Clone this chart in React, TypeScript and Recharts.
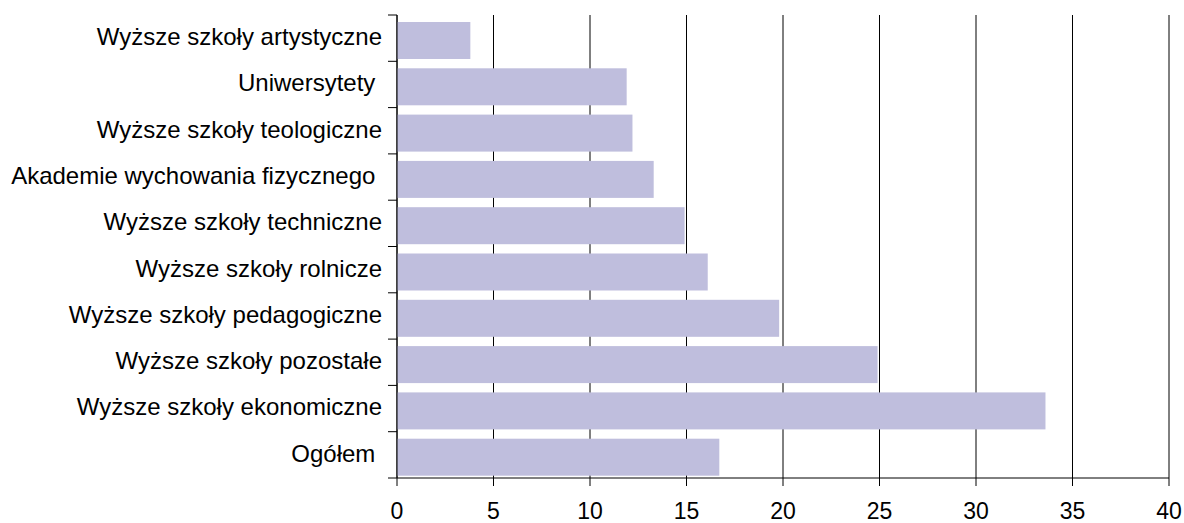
import React from "react";
import { BarChart, Bar, XAxis, YAxis, CartesianGrid } from "recharts";

const categories = [
  "Wyższe szkoły artystyczne",
  "Uniwersytety ",
  "Wyższe szkoły teologiczne",
  "Akademie wychowania fizycznego ",
  "Wyższe szkoły techniczne",
  "Wyższe szkoły rolnicze",
  "Wyższe szkoły pedagogiczne",
  "Wyższe szkoły pozostałe",
  "Wyższe szkoły ekonomiczne",
  "Ogółem ",
];
const values = [3.8, 11.9, 12.2, 13.3, 14.9, 16.1, 19.8, 24.9, 33.6, 16.7];
const xTicks = [0, 5, 10, 15, 20, 25, 30, 35, 40];

const data = categories.map((name, i) => ({ name, value: values[i] }));

const W = 1184;
const H = 523;
const M_TOP = 15;
const X_AXIS_H = 45;
const BAND = (H - M_TOP - X_AXIS_H) / categories.length;
const FONT = "'Liberation Sans', Arial, sans-serif";

const YTick = (props: any) => {
  const { x, y, payload, index } = props;
  return (
    <g>
      <text
        x={x - 6}
        y={y}
        dy={6.9}
        textAnchor="end"
        fontSize={24}
        fontFamily={FONT}
        fill="#000"
        style={{ whiteSpace: "pre" }}
      >
        {payload.value}
      </text>
      {index === 0 && (
        <line x1={x} x2={x + 9} y1={y - BAND / 2} y2={y - BAND / 2} stroke="#000" strokeWidth={1} />
      )}
      <line x1={x} x2={x + 9} y1={y + BAND / 2} y2={y + BAND / 2} stroke="#000" strokeWidth={1} />
    </g>
  );
};

const BarShape = (p: any) => (
  <rect x={p.x} y={p.y + 2} width={p.width} height={p.height} fill="#bfbedd" />
);

export default function App() {
  return (
    <div style={{ position: "absolute", left: 0, top: 0, width: W, height: H, background: "#fff" }}>
      <BarChart
        width={W}
        height={H}
        data={data}
        layout="vertical"
        margin={{ top: M_TOP, right: 15, bottom: 0, left: 0 }}
      >
        <CartesianGrid horizontal={false} vertical={true} stroke="#000" strokeWidth={1} />
        <XAxis
          type="number"
          domain={[0, 40]}
          ticks={xTicks}
          interval={0}
          height={X_AXIS_H}
          tickSize={8}
          tickMargin={17}
          axisLine={{ stroke: "#000" }}
          tickLine={{ stroke: "#000" }}
          tick={{ fontSize: 23, fill: "#000", fontFamily: FONT }}
        />
        <YAxis
          type="category"
          dataKey="name"
          width={397}
          interval={0}
          tickSize={9}
          tickMargin={0}
          tickLine={false}
          axisLine={{ stroke: "#000" }}
          tick={<YTick />}
        />
        <Bar dataKey="value" barSize={37} fill="#bfbedd" shape={<BarShape />} isAnimationActive={false} />
      </BarChart>
    </div>
  );
}
